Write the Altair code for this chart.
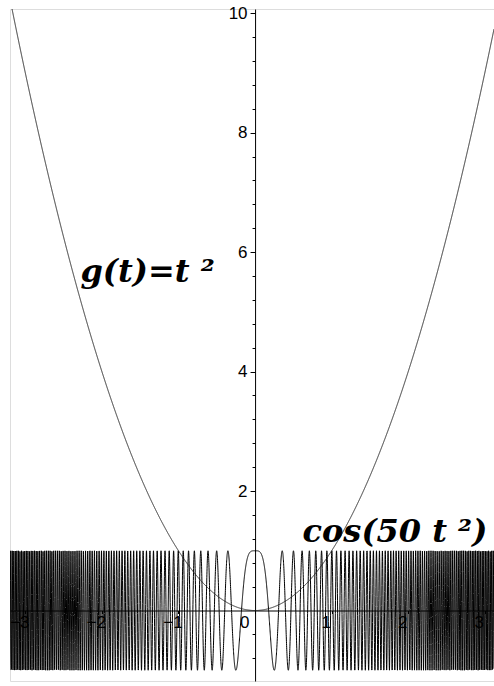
import altair as alt

# Plot window and sampling of the parameter t
T_RANGE = [-3.2, 3.12]
Y_RANGE = [-1.18, 10.07]
N_SAMPLES = 6000
FREQ = 50

# Axis ticks
X_TICKS = [-3, -2, -1, 0, 1, 2, 3]
Y_MAJOR = [2, 4, 6, 8, 10]
Y_MINOR = [round(-0.8 + 0.4 * i, 1) for i in range(28)]
Y_MINOR = [v for v in Y_MINOR if v not in (0, 2, 4, 6, 8, 10)]

# Curve annotations: text, anchor t, anchor y
LABEL_TEXT = ["g(t)=t ²", "cos(50 t ²)"]
LABEL_T = [-2.28, 0.62]
LABEL_Y = [5.5, 1.15]

W, H = 484, 672
x_zero_px = W * (0 - T_RANGE[0]) / (T_RANGE[1] - T_RANGE[0])
y_zero_px = H * (0 - Y_RANGE[0]) / (Y_RANGE[1] - Y_RANGE[0])

x_scale = alt.Scale(domain=T_RANGE, nice=False, zero=False)
y_scale = alt.Scale(domain=Y_RANGE, nice=False, zero=False)

x_axis = alt.Axis(
    values=X_TICKS, orient="bottom", offset=-y_zero_px, title=None, grid=False,
    format="d", labelOverlap=False, labelFlush=False,
    domainColor="black", tickColor="black", tickSize=3, labelColor="black",
    labelFont="Liberation Sans", labelFontSize=17, labelPadding=1, labelOffset=-6,
    labelAlign={"condition": {"test": "datum.value === 0", "value": "right"}, "value": "center"},
)
y_axis_major = alt.Axis(
    values=Y_MAJOR, orient="left", offset=-x_zero_px, title=None, grid=False,
    format="d", labelOverlap=False, labelFlush=False,
    domainColor="black", tickColor="black", tickSize=5,
    labelColor="black", labelFont="Liberation Sans", labelFontSize=17, labelPadding=3,
)
y_axis_minor = alt.Axis(
    values=Y_MINOR, orient="left", offset=-x_zero_px, title=None, grid=False,
    labels=False, domain=False, tickColor="black", tickSize=3,
)

base = alt.Chart(alt.sequence(0, N_SAMPLES + 1, as_="i")).transform_calculate(
    t=f"{T_RANGE[0]} + datum.i * ({T_RANGE[1] - T_RANGE[0]}) / {N_SAMPLES}"
)

oscillation = base.transform_calculate(
    y=f"cos({FREQ} * datum.t * datum.t)"
).mark_line(color="black", strokeWidth=1.0, clip=True).encode(
    x=alt.X("t:Q", scale=x_scale, axis=x_axis),
    y=alt.Y("y:Q", scale=y_scale, axis=y_axis_major),
    order="i:Q",
)

parabola = base.transform_calculate(
    y="datum.t * datum.t"
).mark_line(color="#222222", strokeWidth=1, clip=True).encode(
    x=alt.X("t:Q", scale=x_scale, axis=x_axis),
    y=alt.Y("y:Q", scale=y_scale, axis=y_axis_minor),
    order="i:Q",
)

labels = alt.Chart(
    alt.Data(values=[{"text": s, "t": t, "y": y} for s, t, y in zip(LABEL_TEXT, LABEL_T, LABEL_Y)])
).mark_text(
    align="left", baseline="alphabetic", font="DejaVu Serif",
    fontSize=32, fontStyle="italic", fontWeight="bold", color="black",
).encode(
    x=alt.X("t:Q", scale=x_scale, axis=x_axis),
    y=alt.Y("y:Q", scale=y_scale, axis=None),
    text="text:N",
)

chart = alt.layer(oscillation, parabola, labels).resolve_scale(
    y="independent"
).properties(
    width=W, height=H,
    autosize=alt.AutoSizeParams(type="none"),
    padding={"left": 10, "top": 9, "right": 0, "bottom": 5},
).configure_view(stroke=None).configure(background="white")

chart.save("out.html", embed_options={"renderer": "svg", "actions": False})
